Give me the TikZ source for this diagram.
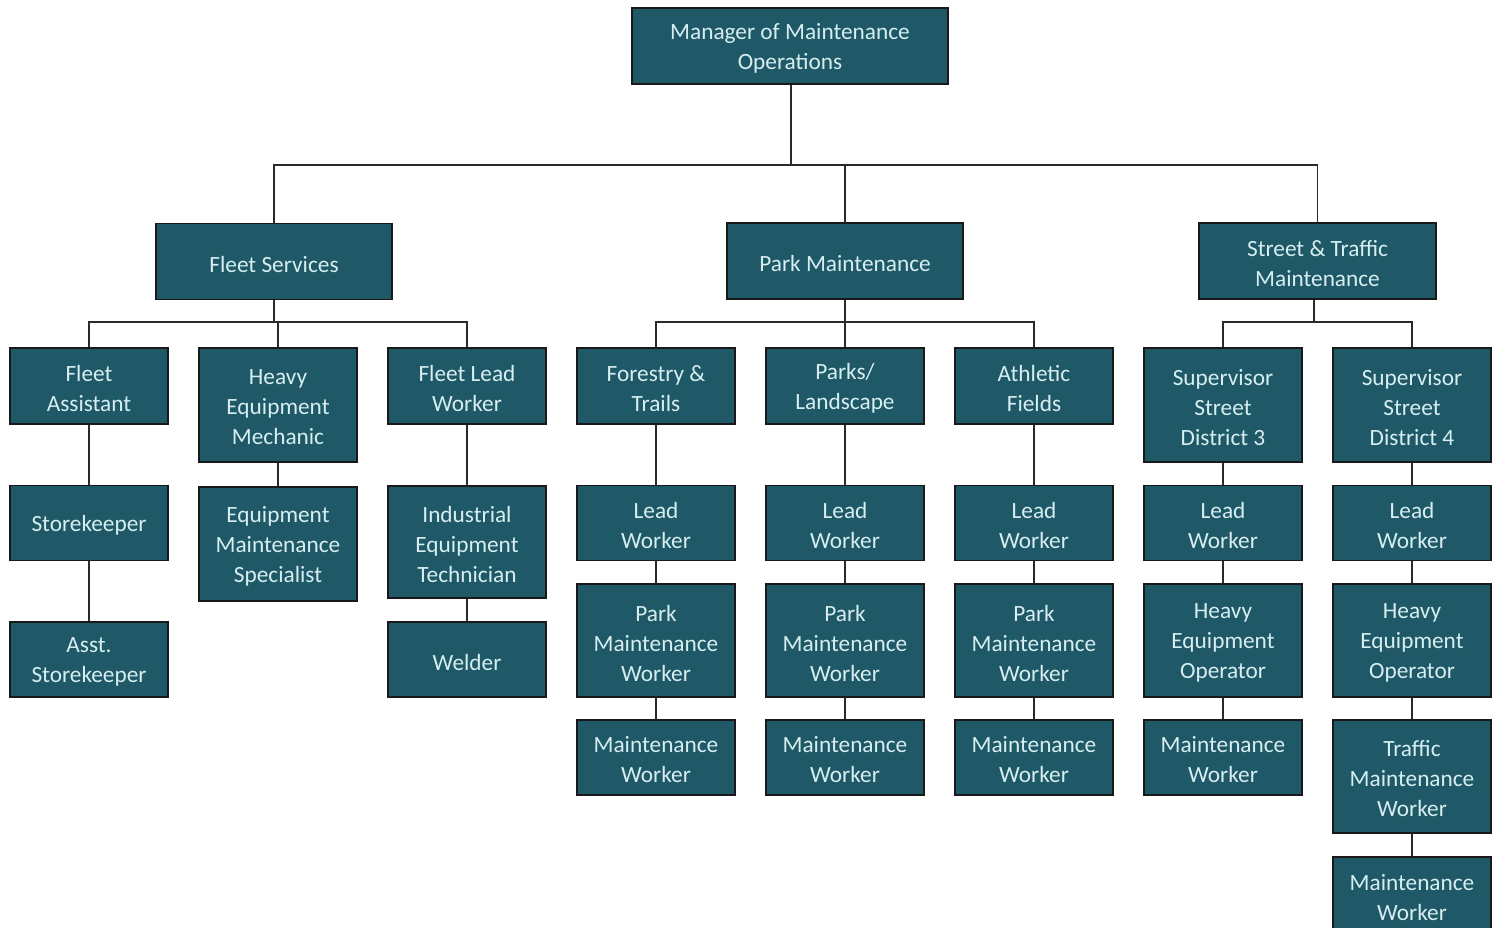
\documentclass[tikz,border=0pt]{standalone}
\usepackage{fontspec}
\setmainfont{Carlito}
\definecolor{boxfill}{HTML}{1F5867}
\definecolor{boxtext}{HTML}{D6EEF0}
\definecolor{linecol}{HTML}{2A2A2A}
\tikzset{
  boxshape/.style={draw=black!90, line width=1.4pt, fill=boxfill,
    inner sep=0pt, minimum width=158pt},
  boxlabel/.style={text=boxtext, align=center, inner sep=0pt,
    font=\fontsize{23.3}{30}\selectfont},
  conn/.style={draw=linecol, line width=1.5pt}
}
% \orgbox[width]{name}{x}{y}{height}{text}
\newcommand\orgbox[6][158]{%
  \node[boxshape, minimum width=#1pt, minimum height=#5pt] (#2) at (#3,#4) {};
  \node[boxlabel] (#2-t) at ([yshift=-2.5pt]#2.center) {#6};
}
\begin{document}
\begin{tikzpicture}[x=1pt,y=-1pt]
\useasboundingbox (0,0) rectangle (1497,928);
\fill[white] (0,0) rectangle (1497,928);
\begin{scope}
\clip (0,0) rectangle (1497,928);
\coordinate (b1) at (791,165);
\coordinate (b2) at (274,322);
\coordinate (b3) at (845,322);
\coordinate (b4) at (1314,322);

\orgbox[316]{top}{790}{46}{76}{Manager of Maintenance\\Operations}
\orgbox[236]{fs}{274}{261.5}{76}{Fleet Services}
\orgbox[236]{pm}{845}{261}{76}{Park Maintenance}
\orgbox[237]{st}{1317.5}{261}{76}{Street \& Traffic\\Maintenance}

\orgbox{fa}{89}{386}{76}{Fleet\\Assistant}
\orgbox{hem}{278}{405}{114}{Heavy\\Equipment\\Mechanic}
\orgbox{flw}{467}{386}{76}{Fleet Lead\\Worker}
\orgbox{ft}{656}{386}{76}{Forestry \&\\Trails}
\orgbox{pl}{845}{386}{76}{Parks/\\Landscape}
\orgbox{af}{1034}{386}{76}{Athletic\\Fields}
\orgbox{sd3}{1223}{405}{114}{Supervisor\\Street\\District 3}
\orgbox{sd4}{1412}{405}{114}{Supervisor\\Street\\District 4}

\orgbox{sk}{89}{523}{75}{Storekeeper}
\orgbox{ems}{278}{544}{114}{Equipment\\Maintenance\\Specialist}
\orgbox{iet}{467}{542}{112}{Industrial\\Equipment\\Technician}
\orgbox{lw1}{656}{523}{75}{Lead\\Worker}
\orgbox{lw2}{845}{523}{75}{Lead\\Worker}
\orgbox{lw3}{1034}{523}{75}{Lead\\Worker}
\orgbox{lw4}{1223}{523}{75}{Lead\\Worker}
\orgbox{lw5}{1412}{523}{75}{Lead\\Worker}

\orgbox{ask}{89}{659.5}{75}{Asst.\\Storekeeper}
\orgbox{wel}{467}{659.5}{75}{Welder}
\orgbox{pmw1}{656}{640.5}{113}{Park\\Maintenance\\Worker}
\orgbox{pmw2}{845}{640.5}{113}{Park\\Maintenance\\Worker}
\orgbox{pmw3}{1034}{640.5}{113}{Park\\Maintenance\\Worker}
\orgbox{heo1}{1223}{640.5}{113}{Heavy\\Equipment\\Operator}
\orgbox{heo2}{1412}{640.5}{113}{Heavy\\Equipment\\Operator}

\orgbox{mw1}{656}{757.5}{75}{Maintenance\\Worker}
\orgbox{mw2}{845}{757.5}{75}{Maintenance\\Worker}
\orgbox{mw3}{1034}{757.5}{75}{Maintenance\\Worker}
\orgbox{mw4}{1223}{757.5}{75}{Maintenance\\Worker}
\orgbox{tmw}{1412}{776.5}{113}{Traffic\\Maintenance\\Worker}
\orgbox{mw5}{1412}{895}{76}{Maintenance\\Worker}

% level 1
\draw[conn] (top.south -| b1) -- (b1);
\draw[conn] (fs.north) |- (b1) -| (st.north);
\draw[conn] (pm.north) -- (pm.north |- b1);
% level 2
\draw[conn] (fs.south) -- (b2);
\draw[conn] (fa.north) |- (b2) -| (flw.north);
\draw[conn] (hem.north) -- (hem.north |- b2);
\draw[conn] (pm.south) -- (b3);
\draw[conn] (ft.north) |- (b3) -| (af.north);
\draw[conn] (pl.north) -- (pl.north |- b3);
\draw[conn] (st.south -| b4) -- (b4);
\draw[conn] (sd3.north) |- (b4) -| (sd4.north);
% chains
\draw[conn] (fa.south) -- (sk.north);
\draw[conn] (sk.south) -- (ask.north);
\draw[conn] (hem.south) -- (ems.north);
\draw[conn] (flw.south) -- (iet.north);
\draw[conn] (iet.south) -- (wel.north);
\draw[conn] (ft.south) -- (lw1.north);
\draw[conn] (lw1.south) -- (pmw1.north);
\draw[conn] (pmw1.south) -- (mw1.north);
\draw[conn] (pl.south) -- (lw2.north);
\draw[conn] (lw2.south) -- (pmw2.north);
\draw[conn] (pmw2.south) -- (mw2.north);
\draw[conn] (af.south) -- (lw3.north);
\draw[conn] (lw3.south) -- (pmw3.north);
\draw[conn] (pmw3.south) -- (mw3.north);
\draw[conn] (sd3.south) -- (lw4.north);
\draw[conn] (lw4.south) -- (heo1.north);
\draw[conn] (heo1.south) -- (mw4.north);
\draw[conn] (sd4.south) -- (lw5.north);
\draw[conn] (lw5.south) -- (heo2.north);
\draw[conn] (heo2.south) -- (tmw.north);
\draw[conn] (tmw.south) -- (mw5.north);
\end{scope}
\end{tikzpicture}
\end{document}
